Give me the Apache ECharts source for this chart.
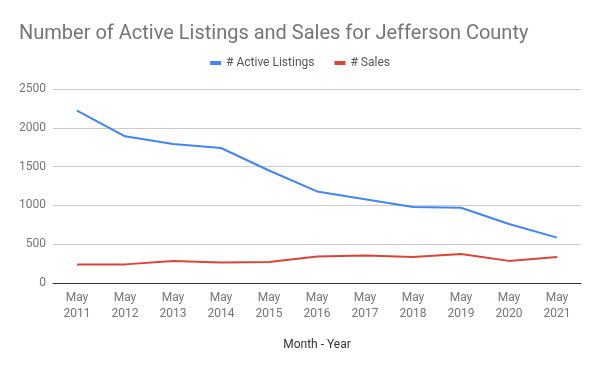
<!DOCTYPE html>
<html><head><meta charset="utf-8">
<script src="https://cdn.jsdelivr.net/npm/echarts@6/dist/echarts.min.js"></script>
<style>html,body{margin:0;padding:0;background:#fff}#c{width:600px;height:371px}</style>
</head><body><div id="c"></div>
<script>
var categories = ['May\n2011','May\n2012','May\n2013','May\n2014','May\n2015','May\n2016','May\n2017','May\n2018','May\n2019','May\n2020','May\n2021'];
var activeListings = [2220, 1890, 1790, 1740, 1450, 1180, 1080, 980, 970, 760, 585];
var sales = [240, 240, 285, 265, 270, 340, 355, 335, 375, 285, 335];
var yTicks = [0, 500, 1000, 1500, 2000, 2500];

var chart = echarts.init(document.getElementById('c'));
chart.setOption({
  animation: false,
  textStyle: {fontFamily: 'Roboto'},
  title: {
    text: 'Number of Active Listings and Sales for Jefferson County',
    left: 14, top: 19,
    textStyle: {fontFamily: 'Roboto', fontSize: 20, fontWeight: 'normal', color: '#757575'}
  },
  legend: {
    top: 52, left: 'center',
    itemWidth: 11, itemHeight: 4, itemGap: 20,
    icon: 'rect',
    textStyle: {fontFamily: 'Roboto', fontSize: 12, color: '#555'},
    data: ['# Active Listings', '# Sales']
  },
  grid: {left: 53, right: 19, top: 89, bottom: 88},
  xAxis: {
    type: 'category',
    data: categories,
    boundaryGap: true,
    name: 'Month - Year',
    nameLocation: 'middle',
    nameGap: 56,
    nameTextStyle: {fontFamily: 'Roboto', fontSize: 12, color: '#333'},
    axisLine: {lineStyle: {color: '#333', width: 1}},
    axisTick: {show: false},
    axisLabel: {fontFamily: 'Roboto', fontSize: 12, color: '#757575', lineHeight: 16, margin: 7, interval: 0}
  },
  yAxis: {
    type: 'value',
    min: yTicks[0], max: yTicks[yTicks.length-1], interval: 500,
    axisLine: {show: false},
    axisTick: {show: false},
    splitLine: {lineStyle: {color: '#cccccc'}},
    axisLabel: {fontFamily: 'Roboto', fontSize: 12, color: '#757575', margin: 7,
      formatter: function (v) { return String(v); }}
  },
  series: [
    {name: '# Active Listings', type: 'line', data: activeListings, showSymbol: false, symbol: 'none',
     lineStyle: {color: '#4285F4', width: 2}, itemStyle: {color: '#4285F4'}},
    {name: '# Sales', type: 'line', data: sales, showSymbol: false, symbol: 'none',
     lineStyle: {color: '#DB4437', width: 2}, itemStyle: {color: '#DB4437'}}
  ]
});
</script></body></html>
